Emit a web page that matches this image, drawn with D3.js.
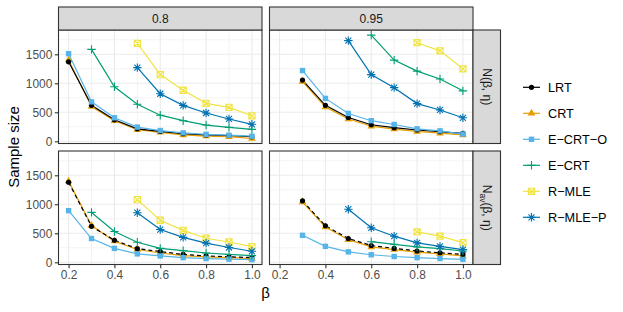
<!DOCTYPE html>
<html><head><meta charset="utf-8">
<script src="https://cdn.jsdelivr.net/npm/d3@7"></script>
<style>body{margin:0;background:#fff}svg{display:block;font-family:"Liberation Sans",Arial,sans-serif}</style>
</head><body><svg id="c" width="623" height="312"></svg>
<script>
const betas = [0.2,0.3,0.4,0.5,0.6,0.7,0.8,0.9,1.0];
const methods = ["LRT","CRT","E\u2212CRT\u2212O","E\u2212CRT","R\u2212MLE","R\u2212MLE\u2212P"];
const colTitles = ["0.8","0.95"];
const xTicks = [0.2,0.4,0.6,0.8,1.0];
const yTicks = [0,500,1000,1500];
// panel 0.8, N(beta, eta)
const lrt_08_N  = [1370,620,370,215,170,130,110,100,78];
const crt_08_N  = [1400,600,355,200,155,110,90,80,48];
const ecrto_08_N= [1510,680,405,245,185,145,120,105,88];
const ecrt_08_N = [null,1585,940,638,450,355,280,240,205];
const rmle_08_N = [null,null,null,1690,1150,880,655,585,440];
const rmlep_08_N= [null,null,null,1270,820,620,488,385,293];
// panel 0.95, N(beta, eta)
const lrt_095_N  = [null,1055,620,410,285,235,195,165,135];
const crt_095_N  = [null,1030,590,385,260,210,170,140,110];
const ecrto_095_N= [null,1220,740,480,355,290,215,180,125];
const ecrt_095_N = [null,null,null,null,1830,1400,1210,1075,870];
const rmle_095_N = [null,null,null,null,null,null,1700,1560,1250];
const rmlep_095_N= [null,null,null,1735,1150,925,650,540,405];
// panel 0.8, Nav(beta, eta)
const lrt_08_Nav  = [1380,620,380,235,185,135,110,95,80];
const crt_08_Nav  = [1400,635,365,220,160,115,95,80,65];
const ecrto_08_Nav= [890,410,240,145,110,80,65,55,45];
const ecrt_08_Nav = [null,860,530,345,240,200,160,135,115];
const rmle_08_Nav = [null,null,null,1080,725,550,415,350,270];
const rmlep_08_Nav= [null,null,null,855,565,430,330,255,190];
// panel 0.95, Nav(beta, eta)
const lrt_095_Nav  = [null,1060,630,410,290,240,195,165,135];
const crt_095_Nav  = [null,1040,610,390,265,220,175,145,110];
const ecrto_095_Nav= [null,465,275,180,130,100,80,65,50];
const ecrt_095_Nav = [null,null,null,null,355,310,265,235,195];
const rmle_095_Nav = [null,null,null,null,null,null,525,450,340];
const rmlep_095_Nav= [null,null,null,915,595,450,335,275,220];

const panelData = [
  [[lrt_08_N,crt_08_N,ecrto_08_N,ecrt_08_N,rmle_08_N,rmlep_08_N],
   [lrt_095_N,crt_095_N,ecrto_095_N,ecrt_095_N,rmle_095_N,rmlep_095_N]],
  [[lrt_08_Nav,crt_08_Nav,ecrto_08_Nav,ecrt_08_Nav,rmle_08_Nav,rmlep_08_Nav],
   [lrt_095_Nav,crt_095_Nav,ecrto_095_Nav,ecrt_095_Nav,rmle_095_Nav,rmlep_095_Nav]]
];
const colors = ["#000000","#E69F00","#56B4E9","#009E73","#F0E442","#0072B2"];

const svg = d3.select("#c");
svg.append("rect").attr("width",623).attr("height",312).attr("fill","#fff");

const colX = [[58.5,262],[269.5,473]];
const rowY = [[30,143.5],[151,264.5]];
const x = d3.scaleLinear().domain([0.156,1.044]);
const yDom = [-38,1919];

function symbolPath(g, k, cx, cy, col){
  if(k===0){ g.append("circle").attr("cx",cx).attr("cy",cy).attr("r",2.6).attr("fill",col); }
  else if(k===1){ g.append("path").attr("d",d3.symbol(d3.symbolTriangle,26)()).attr("transform",`translate(${cx},${cy})`).attr("fill",col); }
  else if(k===2){ g.append("rect").attr("x",cx-2.7).attr("y",cy-2.7).attr("width",5.4).attr("height",5.4).attr("fill",col); }
  else if(k===3){ const s=4.2; g.append("path").attr("d",`M${cx-s},${cy}H${cx+s}M${cx},${cy-s}V${cy+s}`).attr("stroke",col).attr("stroke-width",1.1).attr("fill","none"); }
  else if(k===4){ const s=3.1; g.append("path").attr("d",`M${cx-s},${cy-s}H${cx+s}V${cy+s}H${cx-s}ZM${cx-s},${cy-s}L${cx+s},${cy+s}M${cx+s},${cy-s}L${cx-s},${cy+s}`).attr("stroke",col).attr("stroke-width",1.1).attr("fill","none"); }
  else { const s=4.2, d=3.0; g.append("path").attr("d",`M${cx-s},${cy}H${cx+s}M${cx},${cy-s}V${cy+s}M${cx-d},${cy-d}L${cx+d},${cy+d}M${cx+d},${cy-d}L${cx-d},${cy+d}`).attr("stroke",col).attr("stroke-width",1.1).attr("fill","none"); }
}

const drawOrder = [1,0,2,3,4,5];
for(let r=0;r<2;r++){
  for(let c=0;c<2;c++){
    const [x0,x1]=colX[c], [y0,y1]=rowY[r];
    const xs = x.copy().range([x0,x1]);
    const ys = d3.scaleLinear().domain(yDom).range([y1,y0]);
    const g = svg.append("g");
    [0.3,0.5,0.7,0.9].forEach(v=>g.append("line").attr("x1",xs(v)).attr("x2",xs(v)).attr("y1",y0).attr("y2",y1).attr("stroke","#EBEBEB").attr("stroke-width",0.6));
    [250,750,1250,1750].forEach(v=>g.append("line").attr("y1",ys(v)).attr("y2",ys(v)).attr("x1",x0).attr("x2",x1).attr("stroke","#EBEBEB").attr("stroke-width",0.6));
    xTicks.forEach(v=>g.append("line").attr("x1",xs(v)).attr("x2",xs(v)).attr("y1",y0).attr("y2",y1).attr("stroke","#EBEBEB").attr("stroke-width",1.1));
    yTicks.forEach(v=>g.append("line").attr("y1",ys(v)).attr("y2",ys(v)).attr("x1",x0).attr("x2",x1).attr("stroke","#EBEBEB").attr("stroke-width",1.1));
    const clip = "clip"+r+c;
    svg.append("clipPath").attr("id",clip).append("rect").attr("x",x0).attr("y",y0).attr("width",x1-x0).attr("height",y1-y0);
    const gd = g.append("g").attr("clip-path",`url(#${clip})`);
    const line = d3.line().defined(d=>d[1]!=null).x(d=>xs(d[0])).y(d=>ys(d[1]));
    drawOrder.forEach(k=>{
      const vals = panelData[r][c][k];
      const pts = betas.map((b,i)=>[b,vals[i]]);
      const p = gd.append("path").attr("d",line(pts)).attr("fill","none").attr("stroke",colors[k]).attr("stroke-width",1.2);
      if(r===1 && k===0) p.attr("stroke-dasharray","4,3");
    });
    drawOrder.forEach(k=>{
      const vals = panelData[r][c][k];
      betas.forEach((b,i)=>{ if(vals[i]!=null) symbolPath(gd,k,xs(b),ys(vals[i]),colors[k]); });
    });
    g.append("rect").attr("x",x0).attr("y",y0).attr("width",x1-x0).attr("height",y1-y0).attr("fill","none").attr("stroke","#333").attr("stroke-width",1.1);
    if(c===0){
      const ax = d3.axisLeft(ys).tickValues(yTicks).tickFormat(d3.format("d")).tickSize(3.7).tickPadding(2.5);
      const a = svg.append("g").attr("transform",`translate(${x0},0)`).call(ax);
      a.select(".domain").remove();
      a.selectAll("line").attr("stroke","#333").attr("stroke-width",1.1);
      a.selectAll("text").attr("fill","#4D4D4D").style("font-size","11.9px").style("font-family","Liberation Sans, Arial, sans-serif");
    }
    if(r===1){
      const ax = d3.axisBottom(xs).tickValues(xTicks).tickFormat(d3.format(".1f")).tickSize(3.7).tickPadding(2.5);
      const a = svg.append("g").attr("transform",`translate(0,${y1})`).call(ax);
      a.select(".domain").remove();
      a.selectAll("line").attr("stroke","#333").attr("stroke-width",1.1);
      a.selectAll("text").attr("fill","#4D4D4D").style("font-size","11.9px").style("font-family","Liberation Sans, Arial, sans-serif");
    }
    if(r===0){
      svg.append("rect").attr("x",x0).attr("y",7).attr("width",x1-x0).attr("height",23).attr("fill","#D9D9D9").attr("stroke","#333").attr("stroke-width",1.1);
      svg.append("text").attr("x",(x0+x1)/2).attr("y",18.5).attr("dy","0.35em").attr("text-anchor","middle").attr("fill","#1A1A1A").style("font-size","12px").text(colTitles[c]);
    }
    if(c===1){
      svg.append("rect").attr("x",x1).attr("y",y0).attr("width",27.5).attr("height",y1-y0).attr("fill","#D9D9D9").attr("stroke","#333").attr("stroke-width",1.1);
      const t = svg.append("text").attr("transform",`translate(${x1+13.75},${(y0+y1)/2}) rotate(90)`).attr("text-anchor","middle").attr("dy","0.35em").attr("fill","#1A1A1A").style("font-size","12px");
      t.append("tspan").text("N");
      if(r===1){ t.append("tspan").attr("dy","3").style("font-size","8.5px").text("av"); t.append("tspan").attr("dy","-3").text("(\u03B2, \u03B7)"); }
      else t.append("tspan").text("(\u03B2, \u03B7)");
    }
  }
}
svg.append("text").attr("x",265.5).attr("y",293).attr("dy","0.35em").attr("text-anchor","middle").attr("fill","#000").style("font-size","15px").text("\u03B2");
svg.append("text").attr("transform",`translate(14,147) rotate(-90)`).attr("text-anchor","middle").attr("dy","0.35em").attr("fill","#000").style("font-size","15px").text("Sample size");
methods.forEach((m,k)=>{
  const cy = 87.3 + 26*k;
  const lg = svg.append("g");
  lg.append("line").attr("x1",523).attr("x2",540).attr("y1",cy).attr("y2",cy).attr("stroke",colors[k]).attr("stroke-width",1.2);
  symbolPath(lg,k,531.5,cy,colors[k]);
  lg.append("text").attr("x",548).attr("y",cy).attr("dy","0.35em").attr("fill","#000").style("font-size","12.7px").text(m);
});
</script></body></html>
